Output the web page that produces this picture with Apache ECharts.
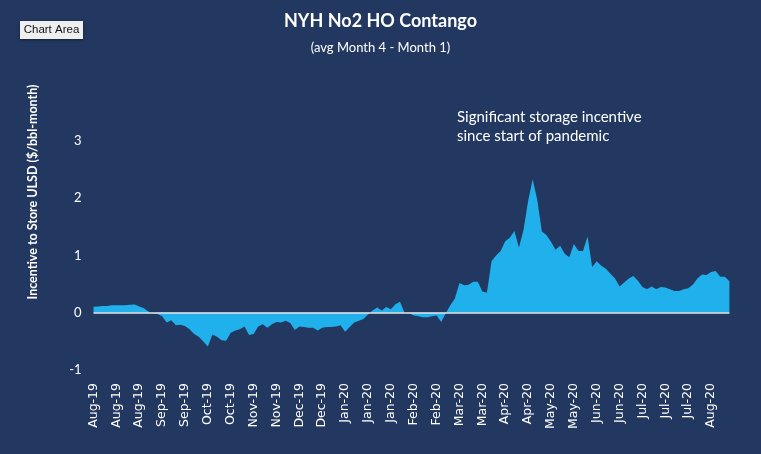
<!DOCTYPE html>
<html><head><meta charset="utf-8">
<script src="https://cdn.jsdelivr.net/npm/echarts@6/dist/echarts.min.js"></script>
<style>html,body{margin:0;padding:0;background:#233860;}#c{width:761px;height:454px;}</style>
</head><body><div id="c"></div>
<script>
// Tick labels shown every 5th point (every ~2 weeks)
const tickLabels = ["Aug-19","Aug-19","Aug-19","Sep-19","Sep-19","Oct-19","Oct-19","Nov-19","Nov-19","Dec-19","Dec-19",
  "Jan-20","Jan-20","Jan-20","Feb-20","Feb-20","Mar-20","Mar-20","Apr-20","Apr-20","May-20","May-20",
  "Jun-20","Jun-20","Jul-20","Jul-20","Jul-20","Aug-20"];
const labelEvery = 5;
// Contango values ($/bbl-month)
const contango = [
  0.105,0.11,0.12,0.12,0.13,0.13,0.13,0.13,0.14,0.145,
  0.11,0.08,0.02,-0.01,-0.02,-0.06,-0.17,-0.13,-0.22,-0.21,
  -0.23,-0.29,-0.37,-0.42,-0.5,-0.59,-0.38,-0.42,-0.48,-0.49,
  -0.35,-0.31,-0.29,-0.24,-0.39,-0.37,-0.24,-0.2,-0.26,-0.2,
  -0.16,-0.17,-0.14,-0.18,-0.3,-0.24,-0.25,-0.26,-0.26,-0.31,
  -0.26,-0.25,-0.25,-0.24,-0.22,-0.33,-0.25,-0.17,-0.14,-0.11,
  -0.03,0.04,0.09,0.04,0.1,0.06,0.15,0.19,0.0,-0.01,
  -0.05,-0.06,-0.08,-0.08,-0.06,-0.05,-0.16,-0.01,0.13,0.25,
  0.52,0.48,0.49,0.54,0.54,0.37,0.35,0.9,1.0,1.08,
  1.25,1.31,1.43,1.14,1.45,1.95,2.33,1.97,1.42,1.36,
  1.24,1.1,1.17,1.03,0.97,1.2,1.08,1.08,1.33,0.8,
  0.9,0.82,0.77,0.68,0.6,0.46,0.53,0.6,0.64,0.56,
  0.45,0.41,0.46,0.41,0.45,0.44,0.41,0.38,0.38,0.41,
  0.43,0.49,0.6,0.67,0.66,0.71,0.73,0.63,0.63,0.55
];
const categories = contango.map((v, i) => "p" + i);
const yMin = -1, yMax = 3, yStep = 1;

const chart = echarts.init(document.getElementById('c'));
chart.setOption({
  backgroundColor: '#233860',
  animation: false,
  grid: { left: 93.5, right: 31.6, top: 141, bottom: 84 },
  xAxis: {
    type: 'category', data: categories, boundaryGap: false,
    axisLine: { show: false }, axisTick: { show: false }, splitLine: { show: false },
    axisLabel: {
      interval: labelEvery - 1, rotate: 90, margin: 13, color: '#ffffff',
      fontFamily: 'DejaVu Sans', fontSize: 12.5,
      formatter: (v, idx) => tickLabels[Math.round(idx / labelEvery)] || ''
    }
  },
  yAxis: {
    type: 'value', min: yMin, max: yMax, interval: yStep,
    axisLine: { show: false }, axisTick: { show: false }, splitLine: { show: false },
    axisLabel: { color: '#ffffff', fontFamily: 'Lato', fontSize: 13, margin: 12 }
  },
  series: [{
    type: 'line', data: contango, showSymbol: false, silent: true,
    lineStyle: { width: 0, color: '#20b0ec' },
    areaStyle: { color: '#20b0ec', opacity: 1 },
    markLine: {
      silent: true, symbol: ['none', 'none'], label: { show: false },
      lineStyle: { color: '#e6e6e6', width: 1.5, type: 'solid' },
      data: [{ yAxis: 0 }]
    }
  }],
  graphic: [
    { type: 'text', left: 'center', top: 12, style: { text: 'NYH No2 HO Contango', fill: '#ffffff', font: 'bold 18px Lato' } },
    { type: 'text', left: 'center', top: 41, style: { text: '(avg Month 4 - Month 1)', fill: '#ffffff', font: '13px Lato' } },
    { type: 'text', left: 457, top: 108, style: { text: 'Significant storage incentive\nsince start of pandemic', fill: '#ffffff', font: '15px Lato', lineHeight: 19 } },
    { type: 'text', x: 33, y: 192, rotation: Math.PI / 2, style: { text: 'Incentive to Store ULSD ($/bbl-month)', fill: '#ffffff', font: 'bold 12.5px Lato', align: 'center', verticalAlign: 'middle' } },
    { type: 'rect', shape: { x: 20, y: 21, width: 63, height: 18 }, style: { fill: '#efefef', shadowBlur: 3, shadowColor: 'rgba(0,0,0,0.45)', shadowOffsetY: 1 } },
    { type: 'text', x: 51.5, y: 30, style: { text: 'Chart Area', fill: '#111111', font: '11.5px "Liberation Sans"', align: 'center', verticalAlign: 'middle' } }
  ]
});
</script></body></html>
